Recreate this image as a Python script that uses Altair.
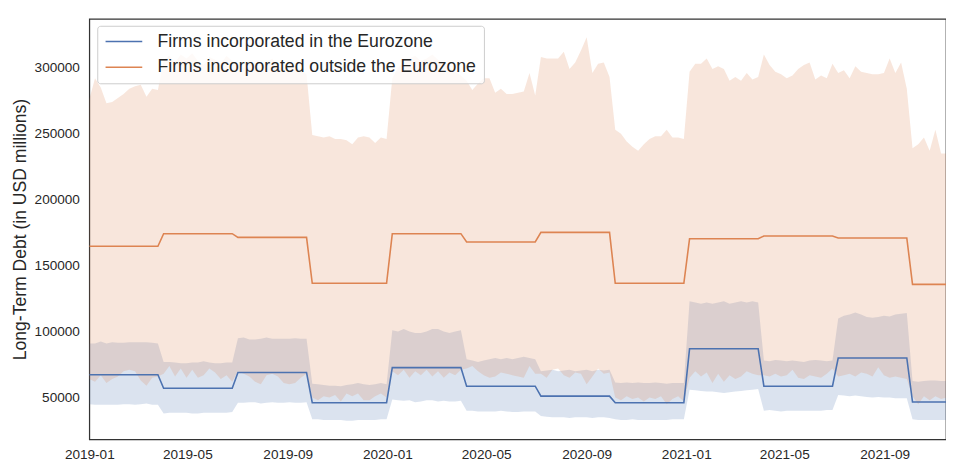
import altair as alt
import pandas as pd

SERIES = ["Firms incorporated in the Eurozone", "Firms incorporated outside the Eurozone"]
COLORS = ["#4c72b0", "#dd8452"]

# Quarterly means (in thousands of USD millions), Q1 2019 .. Q4 2021
b_mean = [67.3, 57.0, 69.0, 46.1, 72.7, 58.6, 51.1, 46.1, 87.0, 58.6, 80.0, 46.6]
o_mean = [164.7, 174.2, 171.4, 136.6, 174.2, 167.9, 175.2, 136.6, 170.4, 172.4, 170.9, 135.8]

# Weekly confidence band edges (thousands), weekly from 2019-01-01
o_hi = (
    [276, 292, 285, 273, 274, 277, 280, 284, 286, 287, 278, 284, 283]
    + [306, 309, 304, 310, 307, 311, 305, 302, 308, 306, 303, 309, 305]
    + [303, 300, 306, 302, 298, 304, 307, 301, 299, 305, 302, 298, 295]
    + [249, 248, 247, 248, 246, 246, 245, 242, 247, 248, 247, 243, 247, 246]
    + [292, 300, 304, 307, 309, 305, 307, 310, 306, 303, 300, 297, 294]
    + [290, 283, 288, 292, 292, 281, 284, 280, 280, 281, 282, 296, 279]
    + [308, 307, 307, 307, 312, 299, 304, 313, 323, 296, 303, 304, 293]
    + [253, 250, 244, 240, 237, 242, 246, 248, 248, 253, 247, 247, 246]
    + [297, 303, 303, 307, 299, 301, 299, 290, 293, 290, 296, 291, 293]
    + [310, 302, 297, 295, 292, 294, 299, 302, 304, 291, 294, 292, 303]
    + [296, 298, 292, 301, 297, 296, 295, 295, 296, 307, 296, 304, 284]
    + [239, 242, 247, 237, 253, 235, 235, 236]
)
o_lo = (
    [64, 62, 67, 61, 64, 66, 70, 71, 70, 63, 59, 65, 66]
    + [68, 74, 66, 72, 65, 71, 65, 67, 72, 69, 64, 67, 62]
    + [70, 68, 66, 62, 60, 67, 68, 66, 61, 60, 61, 65, 68]
    + [50, 48, 51, 50, 52, 47, 53, 51, 53, 48, 48, 51, 53, 50]
    + [70, 67, 71, 65, 70, 67, 71, 66, 70, 65, 69, 67, 71]
    + [72, 74, 70, 67, 65, 66, 69, 68, 67, 66, 65, 74, 68]
    + [68, 65, 71, 72, 67, 65, 69, 68, 60, 66, 72, 68, 69]
    + [50, 48, 51, 49, 50, 47, 50, 49, 51, 45, 49, 51, 47]
    + [65, 70, 66, 69, 61, 68, 62, 67, 64, 66, 70, 68, 67]
    + [67, 66, 68, 66, 67, 71, 65, 64, 67, 66, 65, 68, 72]
    + [66, 67, 68, 66, 69, 68, 66, 73, 67, 65, 66, 65, 64]
    + [51, 45, 51, 48, 51, 49, 50, 48]
)
b_hi = (
    [91, 91, 92.5, 91, 92, 91.5, 91.5, 92, 92, 92, 92, 91.5, 91]
    + [77, 77, 76.5, 76, 76, 76.5, 76.5, 77.5, 76.5, 76, 76, 76.5, 76.5]
    + [95, 95.5, 94, 94, 94.5, 95.5, 94.5, 94.5, 94.5, 94.5, 95, 94.5, 94.5]
    + [60.5, 60, 59.5, 59, 59, 58.5, 59.5, 60, 61, 60, 59.5, 60, 61, 60]
    + [101, 100, 102, 100, 99, 99, 100, 102, 102, 100, 99, 100, 101]
    + [79, 78, 77, 78, 79, 80, 79, 80, 79, 80, 81, 80, 79]
    + [70, 70.5, 71, 70, 70.5, 71, 70, 70.5, 71, 70, 71, 70.5, 71]
    + [61.5, 61, 61.5, 61, 61.5, 61, 61, 61.5, 61, 60.5, 61, 61, 61]
    + [123, 122, 121, 122, 121, 122, 123, 121, 122, 123, 122, 123, 122]
    + [78, 77.5, 78.5, 78, 77.5, 78, 77.5, 77, 78, 78.5, 78, 77.5, 78]
    + [110, 112, 113, 114.5, 113, 111, 110.5, 111, 112, 111.5, 113, 113.5, 114]
    + [62.5, 62, 62.5, 63, 63, 62.5, 62.5, 62.5]
)
b_lo = (
    [45, 44.5, 44.5, 44.5, 44.5, 44.5, 45, 45, 44.5, 45, 45.5, 44.5, 44.5]
    + [38, 38.5, 38.5, 38.5, 38.5, 38, 38, 38.5, 38.5, 38.5, 38.5, 38.5, 39]
    + [46, 46, 46.5, 46.5, 45.5, 46, 46.5, 46, 46, 46.5, 46, 46, 46.5]
    + [33.5, 33.5, 33, 33, 33, 33, 32.5, 32.5, 33, 33, 33, 33, 33.5, 33.5]
    + [48.5, 48, 47.5, 48, 46.5, 47, 48, 48, 47, 47.5, 47, 47, 47.5]
    + [40, 40, 39.5, 39.5, 39.5, 39.5, 40, 39.5, 39, 39, 39.5, 39.5, 39.5]
    + [36, 35.5, 35, 35, 35, 34.5, 35, 35, 35, 34.5, 35, 35, 34.5]
    + [33.5, 33, 33, 33.5, 33, 33, 33, 33, 33, 33, 33.5, 33.5, 33.5]
    + [56, 55.5, 55, 54.5, 54.5, 54, 53.5, 54, 54.5, 55, 55.5, 56, 56.5]
    + [40, 40.5, 40, 39.5, 40, 40, 40, 40, 40, 40, 40, 40.5, 40.5]
    + [52, 51.5, 51, 51.5, 51, 50.5, 50, 50.5, 50, 50, 49.5, 49.5, 49.5]
    + [33.5, 33, 33, 33, 33, 33, 33, 33]
)

x_ticks = ["2019-01", "2019-05", "2019-09", "2020-01", "2020-05", "2020-09", "2021-01", "2021-05", "2021-09"]
y_ticks = [50000, 100000, 150000, 200000, 250000, 300000]

dates = pd.date_range("2019-01-01", periods=len(o_hi), freq="7D")
rows = []
for i, d in enumerate(dates):
    q = (d.month - 1) // 3 + 4 * (d.year - 2019)
    ds = d.strftime("%Y-%m-%dT00:00:00")
    rows.append({"date": ds, "series": SERIES[0], "lo": b_lo[i] * 1000, "hi": b_hi[i] * 1000, "mean": b_mean[q] * 1000})
    rows.append({"date": ds, "series": SERIES[1], "lo": o_lo[i] * 1000, "hi": o_hi[i] * 1000, "mean": o_mean[q] * 1000})
df = pd.DataFrame(rows)

def dt(s):
    y, m = s.split("-")
    return alt.DateTime(year=int(y), month=int(m), date=1)

x_scale = alt.Scale(domain=[alt.DateTime(year=2019, month=1, date=1), alt.DateTime(year=2021, month=11, date=15)], nice=False)
y_scale = alt.Scale(domain=[18400, 337000], nice=False, zero=False)

FONT = "Liberation Sans"
TXT = "#262626"
YTITLE = "Long-Term Debt (in USD millions)"

x_axis = alt.Axis(values=[dt(s) for s in x_ticks], format="%Y-%m", title=None, ticks=False, tickSize=0,
                  grid=False, domain=False, labelPadding=8, labelFontSize=13.7, labelColor=TXT, labelFont=FONT,
                  labelFlush=False)
y_axis = alt.Axis(values=y_ticks, format="d", title=YTITLE, ticks=False, tickSize=0, grid=False, domain=False,
                  labelPadding=10, labelFontSize=13.7, labelColor=TXT, labelFont=FONT,
                  titleFontSize=17.7, titleFont=FONT, titleColor=TXT, titleFontWeight="normal", titlePadding=5)

base = alt.Chart(df)
layers = []
for s, c in zip(SERIES, COLORS):
    layers.append(
        base.transform_filter(alt.datum.series == s).mark_area(color=c, opacity=0.2, clip=True).encode(
            x=alt.X("date:T", scale=x_scale, axis=x_axis),
            y=alt.Y("lo:Q", scale=y_scale, axis=y_axis, stack=None),
            y2="hi:Q",
        )
    )

lines = base.mark_line(strokeWidth=1.6, clip=True).encode(
    x=alt.X("date:T", scale=x_scale, axis=x_axis),
    y=alt.Y("mean:Q", scale=y_scale, axis=y_axis),
    color=alt.Color("series:N", scale=alt.Scale(domain=SERIES, range=COLORS),
                    legend=alt.Legend(title=None, orient="none", legendX=8, legendY=7,
                                      fillColor="rgba(255,255,255,0.8)", strokeColor="#cccccc",
                                      cornerRadius=3, padding=7, labelFontSize=17.8, labelFont=FONT,
                                      labelColor=TXT, labelLimit=600, symbolType="M-2.5,0H2.5",
                                      symbolSize=219, symbolStrokeWidth=1.6, symbolOffset=11,
                                      labelOffset=25, rowPadding=7)),
)
layers.append(lines)

chart = alt.layer(*layers).properties(
    width=864, height=424,
    padding={"left": 82, "top": 9, "right": 0, "bottom": 21},
    autosize=alt.AutoSizeParams(type="none"),
).configure(
    font=FONT, background="white",
    view=alt.ViewConfig(stroke="#333333", strokeWidth=1.25),
)

chart.save("out.html", embed_options={"renderer": "svg", "actions": False})
